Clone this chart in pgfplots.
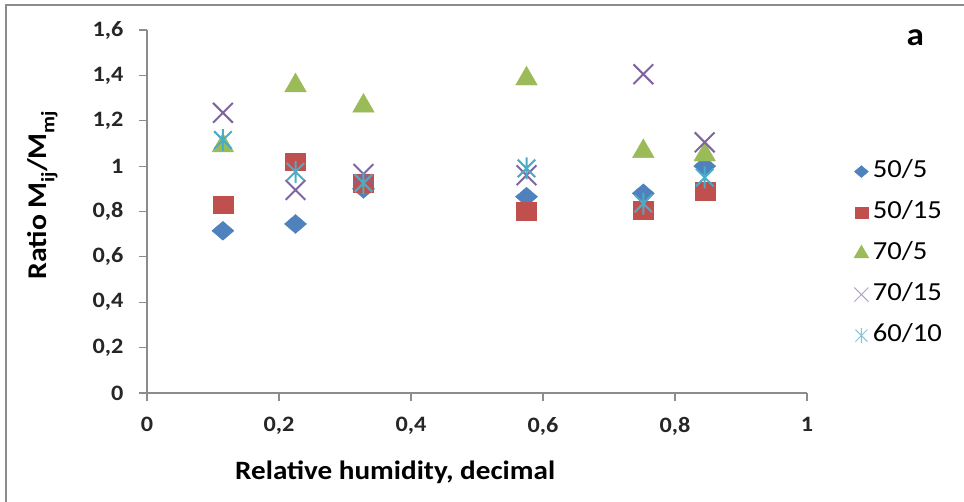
\documentclass[border=0pt]{standalone}
\usepackage{fontspec}
\setmainfont{Carlito}[FakeStretch=1.1]
\usepackage{pgfplots}
\pgfplotsset{compat=1.18}
\definecolor{cBlue}{HTML}{4F81BD}
\definecolor{cRed}{HTML}{C0504D}
\definecolor{cGreen}{HTML}{9BBB59}
\definecolor{cPurple}{HTML}{8064A2}
\definecolor{cAqua}{HTML}{4BACC6}
\definecolor{axgray}{HTML}{8C8C8C}
\newcommand{\sub}[1]{\raisebox{-0.28em}{\fontsize{19}{19}\selectfont #1}}
\pgfdeclareplotmark{xstar}{%
  \pgfpathmoveto{\pgfqpoint{0pt}{-\pgfplotmarksize}}%
  \pgfpathlineto{\pgfqpoint{0pt}{\pgfplotmarksize}}%
  \pgfpathmoveto{\pgfqpoint{-.8\pgfplotmarksize}{-.8\pgfplotmarksize}}%
  \pgfpathlineto{\pgfqpoint{.8\pgfplotmarksize}{.8\pgfplotmarksize}}%
  \pgfpathmoveto{\pgfqpoint{-.8\pgfplotmarksize}{.8\pgfplotmarksize}}%
  \pgfpathlineto{\pgfqpoint{.8\pgfplotmarksize}{-.8\pgfplotmarksize}}%
  \pgfusepathqstroke}
\pgfplotsset{
  legfill/.style={legend image code/.code={\draw[##1, mark size=#1] plot coordinates {(0pt,0pt)};}},
  legline/.style 2 args={legend image code/.code={\draw[##1, mark size=#1, mark options={line width=1pt, draw=#2}] plot coordinates {(0pt,0pt)};}},
}
\begin{document}
\begin{tikzpicture}
\path[use as bounding box] (0,0) rectangle (964pt,502pt);
\begin{axis}[
  at={(147pt,109pt)}, anchor=south west,
  scale only axis, width=660pt, height=363pt,
  xmin=0, xmax=1, ymin=0, ymax=1.6,
  axis x line=bottom, axis y line=left,
  axis line style={-, axgray, line width=1.2pt},
  xtick={0,0.2,...,1.01}, ytick={0,0.2,...,1.61},
  tick align=outside, major tick length=8pt,
  tick style={axgray, line width=1.2pt},
  /pgf/number format/use comma,
  /pgf/number format/assume math mode=true,
  ticklabel style={font=\bfseries\fontsize{22}{24}\selectfont, text=black!85},
  yticklabel style={xshift=-12pt},
  xticklabel style={yshift=-13pt},
  xlabel={Relative humidity, decimal},
  ylabel={Ratio M\sub{ij}/M\sub{mj}},
  xlabel style={font=\bfseries\fontsize{26.5}{28}\selectfont, at={(axis description cs:0.376,-0.218)}, anchor=center},
  ylabel style={font=\bfseries\fontsize{27}{29}\selectfont, at={(axis description cs:-0.158,0.545)}, anchor=center},
  clip=false,
  legend style={draw=none, fill=none, inner sep=0pt,
    at={(axis description cs:1.071,0.384)}, anchor=west,
    font=\fontsize{26}{28}\selectfont, row sep=17pt, column sep=2pt,
    nodes={text height=16pt, text depth=4pt, inner sep=2pt}},
  legend cell align=left,
]
\addplot[only marks, draw=cBlue, fill=cBlue, mark=diamond*, mark size=9.5pt, mark options={xscale=1.55}, legfill=6pt]
  coordinates {(0.115,0.715) (0.225,0.745) (0.328,0.90) (0.575,0.865) (0.752,0.88) (0.845,1.00)};
\addlegendentry{50/5}
\addplot[only marks, draw=cRed, fill=cRed, mark=square*, mark size=10pt, mark options={yscale=0.88}, legfill=6.5pt]
  coordinates {(0.115,0.83) (0.225,1.02) (0.328,0.925) (0.575,0.80) (0.752,0.805) (0.845,0.89)};
\addlegendentry{50/15}
\addplot[only marks, draw=cGreen, fill=cGreen, mark=triangle*, mark size=12.5pt, legfill=8.5pt]
  coordinates {(0.115,1.09) (0.225,1.355) (0.328,1.265) (0.575,1.385) (0.752,1.065) (0.845,1.05)};
\addlegendentry{70/5}
\addplot[only marks, draw=cPurple, mark=x, mark size=14pt, mark options={line width=2pt}, legline={10pt}{cPurple!60}]
  coordinates {(0.115,1.235) (0.225,0.895) (0.328,0.965) (0.575,0.96) (0.752,1.405) (0.845,1.105)};
\addlegendentry{70/15}
\addplot[only marks, draw=cAqua, mark=xstar, mark size=11pt, mark options={line width=2pt}, legline={7.5pt}{cAqua!70}]
  coordinates {(0.115,1.115) (0.225,0.975) (0.328,0.925) (0.575,0.99) (0.752,0.835) (0.845,0.95)};
\addlegendentry{60/10}
\node[font=\bfseries\fontsize{32}{34}\selectfont] at (axis description cs:1.164,0.978) {a};
\end{axis}
\draw[axgray, line width=2pt] (6pt,0pt) -- (6pt,497pt) -- (964pt,497pt);
\end{tikzpicture}
\end{document}
